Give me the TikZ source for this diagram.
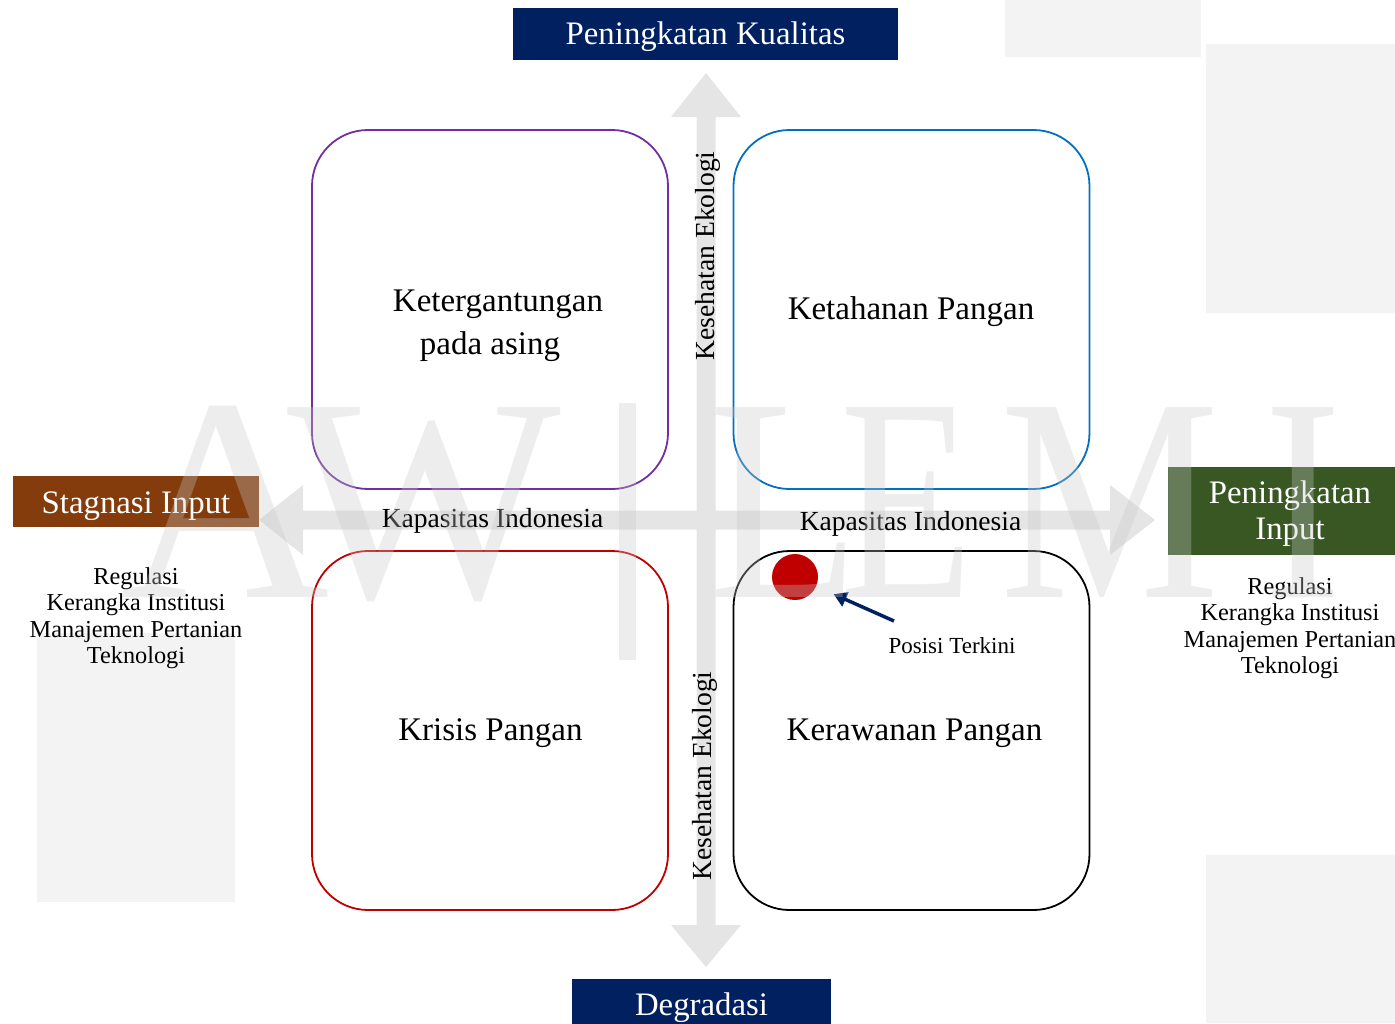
\documentclass[tikz,border=0pt]{standalone}
\usepackage{fontspec}
\setmainfont{Liberation Serif}
\usetikzlibrary{arrows.meta}
\definecolor{navy}{HTML}{002060}
\definecolor{brownbox}{HTML}{843C0C}
\definecolor{greenbox}{HTML}{385723}
\definecolor{purp}{HTML}{7030A0}
\definecolor{blu}{HTML}{0070C0}
\definecolor{redl}{HTML}{C00000}
\definecolor{bggray}{HTML}{F3F3F3}
\definecolor{arrowgray}{HTML}{E5E5E5}
\definecolor{wmgray}{RGB}{200,200,200}
\tikzset{
  quad/.style={draw, line width=1.8pt, rounded corners=56pt, inner sep=0pt,
    minimum width=356pt, minimum height=359pt},
  hdr/.style={inner sep=0pt, text=white, align=center,
    font=\fontsize{32.8}{36}\selectfont},
  big/.style={inner sep=0pt, align=center, font=\fontsize{33}{43}\selectfont},
  axislbl/.style={inner sep=0pt, font=\fontsize{27.6}{30}\selectfont},
  listlbl/.style={inner sep=0pt, align=center, font=\fontsize{24.3}{26.4}\selectfont},
  wm/.style={inner sep=0pt, anchor=base, text=wmgray, text opacity=0.32,
    font=\fontsize{290}{290}\selectfont}
}
\begin{document}
\begin{tikzpicture}[x=1pt,y=-1pt]
\useasboundingbox (0,0) rectangle (1395,1023);
% background panels
\fill[bggray] (1005,0) rectangle (1201,57);
\fill[bggray] (1206,44) rectangle (1395,313);
\fill[bggray] (1206,855) rectangle (1395,1023);
\fill[bggray] (37,633) rectangle (235,902);
% axes
\coordinate (vtop) at (706,73);
\coordinate (vbot) at (706,967);
\coordinate (hleft) at (259,520);
\coordinate (hright) at (1155,520);
\fill[arrowgray] (vtop) -- (741,117) -- (715.5,117) -- (715.5,925) -- (741,925) -- (vbot)
  -- (671,925) -- (696.5,925) -- (696.5,117) -- (671,117) -- cycle;
\fill[arrowgray] (hleft) -- (303,485) -- (303,510.5) -- (1110,510.5) -- (1110,485) -- (hright)
  -- (1110,555) -- (1110,529.5) -- (303,529.5) -- (303,555) -- cycle;
% quadrants
\node[quad, draw=purp] (q1) at (490,309.5) {};
\node[quad, draw=blu] (q2) at (911.5,309.5) {};
\node[quad, draw=redl] (q3) at (490,730.5) {};
\node[quad, draw=black] (q4) at (911.5,730.5) {};
\node[big] (t1) at (490,326) {\hspace*{16pt}Ketergantungan\\pada asing};
\node[big] (t2) at (911,312) {Ketahanan Pangan};
\node[big] (t3) at (490.5,733) {Krisis Pangan};
\node[big] (t4) at (914.5,733) {Kerawanan Pangan};
% axis labels
\node[axislbl] (kl) at (492.5,521) {Kapasitas Indonesia};
\node[axislbl] (kr) at (910.5,524) {Kapasitas Indonesia};
\node[axislbl, rotate=90] (eu) at (708,256) {Kesehatan Ekologi};
\node[axislbl, rotate=90] (ed) at (705,776) {Kesehatan Ekologi};
% header boxes
\node[hdr, fill=navy, minimum width=385pt, minimum height=52pt] (top) at (705.5,34) {};
\node[hdr] (toptxt) at (705.5,37) {Peningkatan Kualitas};
\node[hdr, fill=navy, minimum width=259pt, minimum height=50pt] (bot) at (701.5,1004) {};
\node[hdr] (bottxt) at (701.5,1008) {Degradasi};
\node[hdr, fill=brownbox, minimum width=246pt, minimum height=51pt] (left) at (136,501.5) {};
\node[hdr] (lefttxt) at (136,506) {Stagnasi Input};
\node[hdr, fill=greenbox, minimum width=244pt, minimum height=88pt] (right) at (1290,511) {};
\node[hdr] (righttxt) at (1290,514) {Peningkatan\\Input};
% lists
\node[listlbl] (ll) at (136,618) {Regulasi\\Kerangka Institusi\\Manajemen Pertanian\\Teknologi};
\node[listlbl] (rl) at (1290,628) {Regulasi\\Kerangka Institusi\\Manajemen Pertanian\\Teknologi};
% current position
\node[circle, fill=redl, minimum size=46pt, inner sep=0pt] (dot) at (795,577) {};
\node[inner sep=0pt, font=\fontsize{23}{26}\selectfont] (pos) at (952,646) {Posisi Terkini};
\coordinate (ptail) at (894,621);
\draw[navy, line width=3.5pt, -{Triangle[length=13pt,width=15pt]}, shorten >=19pt] (ptail) -- (dot);
% watermark
\begin{scope}[fill opacity=0.32]
\node[wm] (wA) at (225,597) {A};
\node[wm] (wW) at (424,597) {W};
\fill[wmgray] (619,403) rectangle (636,660);
\node[wm, xscale=0.85] (wL) at (785,597) {L};
\node[wm, xscale=0.75] (wE) at (907,597) {E};
\node[wm, xscale=0.85] (wM) at (1110,597) {M};
\node[wm, xscale=0.8] (wI) at (1303,597) {I};
\end{scope}
\end{tikzpicture}
\end{document}
